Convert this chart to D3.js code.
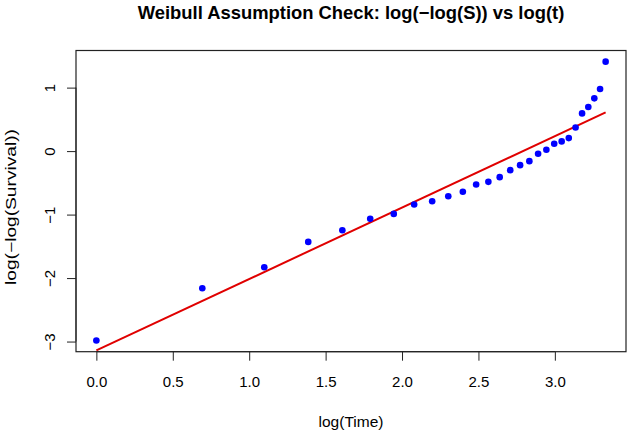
<!DOCTYPE html>
<html>
<head>
<meta charset="utf-8">
<script src="https://cdn.jsdelivr.net/npm/d3@7"></script>
<style>
  body { margin: 0; background: #fff; }
  text { font-family: "Liberation Sans", Arial, sans-serif; fill: #000; }
</style>
</head>
<body>
<div id="chart"></div>
<script>
// Observed event times and the transformed survival values
const times = [1, 2, 3, 4, 5, 6, 7, 8, 9, 10, 11, 12, 13, 14, 15, 16, 17, 18, 19, 20, 21, 22, 23, 24, 25, 26, 27, 28];
const logLogSurv = [-2.984, -2.161, -1.830, -1.430, -1.246, -1.067, -0.989, -0.841, -0.789, -0.710,
  -0.641, -0.526, -0.484, -0.410, -0.300, -0.221, -0.158, -0.042, 0.021, 0.115,
  0.153, 0.205, 0.373, 0.594, 0.694, 0.831, 0.978, 1.409];

// Fitted straight line (intercept, slope)
const fitIntercept = -3.14;
const fitSlope = 1.125;

const xTicks = [0, 0.5, 1, 1.5, 2, 2.5, 3];
const yTicks = [-3, -2, -1, 0, 1];

const width = 630, height = 432;
const margin = { top: 50.5, right: 4, bottom: 80.3, left: 76 };

const pts = times.map((t, i) => ({ x: Math.log(t), y: logLogSurv[i] }));

// R-style 4% extension of the data range
const pad = ([a, b]) => [a - (b - a) * 0.04, b + (b - a) * 0.04];

const x = d3.scaleLinear()
  .domain(pad(d3.extent(pts, d => d.x)))
  .range([margin.left, width - margin.right]);

const y = d3.scaleLinear()
  .domain(pad(d3.extent(pts, d => d.y)))
  .range([height - margin.bottom, margin.top]);

const svg = d3.select("#chart")
  .append("svg")
  .attr("width", width)
  .attr("height", height);

// Plot box
svg.append("rect")
  .attr("x", margin.left)
  .attr("y", margin.top)
  .attr("width", width - margin.left - margin.right)
  .attr("height", height - margin.top - margin.bottom)
  .attr("fill", "none")
  .attr("stroke", "#222")
  .attr("stroke-width", 1.2);

// X axis
const xAxis = svg.append("g")
  .attr("transform", `translate(0,${height - margin.bottom})`)
  .call(d3.axisBottom(x).tickValues(xTicks).tickFormat(d3.format(".1f")).tickSize(9));
xAxis.select(".domain")
  .attr("d", `M${x(0)},0H${x(3)}`)
  .attr("stroke", "#222");
xAxis.selectAll(".tick line").attr("stroke", "#222");
xAxis.selectAll("text")
  .attr("y", 35.3)
  .attr("dy", null)
  .attr("font-size", "15px")
  .attr("font-family", "Liberation Sans, Arial, sans-serif")
  .attr("fill", "#000");

// Y axis with rotated labels
const yAxis = svg.append("g")
  .attr("transform", `translate(${margin.left},0)`)
  .call(d3.axisLeft(y).tickValues(yTicks).tickFormat(d => d < 0 ? "\u2212" + Math.abs(d) : d).tickSize(9));
yAxis.select(".domain")
  .attr("d", `M0,${y(-3)}V${y(1)}`)
  .attr("stroke", "#222");
yAxis.selectAll(".tick line").attr("stroke", "#222");
yAxis.selectAll("text")
  .attr("x", null)
  .attr("dy", null)
  .attr("transform", "translate(-21,0) rotate(-90)")
  .attr("text-anchor", "middle")
  .attr("font-size", "15px")
  .attr("font-family", "Liberation Sans, Arial, sans-serif")
  .attr("fill", "#000");

// Fitted line over the data range
const [x0, x1] = d3.extent(pts, d => d.x);
svg.append("line")
  .attr("x1", x(x0))
  .attr("y1", y(fitIntercept + fitSlope * x0))
  .attr("x2", x(x1))
  .attr("y2", y(fitIntercept + fitSlope * x1))
  .attr("stroke", "#e00000")
  .attr("stroke-width", 2);

// Points
svg.append("g")
  .selectAll("circle")
  .data(pts)
  .join("circle")
  .attr("cx", d => x(d.x))
  .attr("cy", d => y(d.y))
  .attr("r", 3.3)
  .attr("fill", "#0000ff");

// Titles
const midX = (margin.left + width - margin.right) / 2;
svg.append("text")
  .attr("x", midX)
  .attr("y", 18.5)
  .attr("text-anchor", "middle")
  .attr("font-weight", "bold")
  .attr("font-size", "18.4px")
  .text("Weibull Assumption Check: log(\u2212log(S)) vs log(t)");

svg.append("text")
  .attr("x", midX)
  .attr("y", 427)
  .attr("text-anchor", "middle")
  .attr("font-size", "15.5px")
  .text("log(Time)");

svg.append("text")
  .attr("transform", `translate(15.5,207) rotate(-90)`)
  .attr("text-anchor", "middle")
  .attr("font-size", "14px")
  .attr("textLength", 156)
  .attr("lengthAdjust", "spacingAndGlyphs")
  .text("log(\u2212log(Survival))");
</script>
</body>
</html>
